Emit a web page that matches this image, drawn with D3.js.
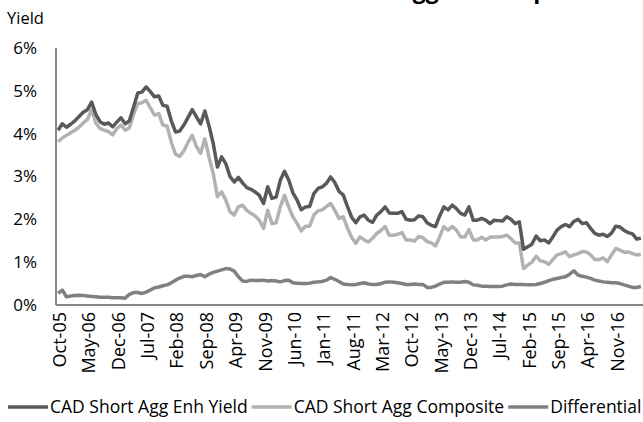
<!DOCTYPE html>
<html>
<head>
<meta charset="utf-8">
<script src="https://cdn.jsdelivr.net/npm/d3@7"></script>
<style>
  html, body { margin: 0; padding: 0; background: #fff; }
  #plot { width: 643px; height: 422px; }
  text { font-family: "Open Sans", "Liberation Sans", sans-serif; fill: #000; }
</style>
</head>
<body>
<div id="plot"></div>
<script>
// Monthly yields, Oct-05 .. May-17 (percent)
const startYear = 2005, startMonth = 9; // October (0-based)
const monthNames = ['Jan', 'Feb', 'Mar', 'Apr', 'May', 'Jun', 'Jul', 'Aug', 'Sep', 'Oct', 'Nov', 'Dec'];

const enhYield = [
  4.08, 4.23, 4.15, 4.22, 4.30, 4.40, 4.50, 4.56, 4.74, 4.45, 4.28, 4.22, 4.25, 4.16, 4.27, 4.37, 4.23, 4.30, 4.62, 4.95,
  4.97, 5.09, 4.98, 4.86, 4.88, 4.66, 4.64, 4.30, 4.04, 4.06, 4.20, 4.38, 4.56, 4.39, 4.23, 4.53, 4.18, 3.77, 3.22, 3.46,
  3.30, 3.00, 2.87, 2.98, 2.85, 2.74, 2.70, 2.64, 2.56, 2.37, 2.76, 2.49, 2.52, 2.91, 3.12, 2.92, 2.62, 2.45, 2.22, 2.29,
  2.30, 2.60, 2.72, 2.76, 2.84, 2.99, 2.86, 2.65, 2.57, 2.30, 2.05, 1.92, 2.06, 2.10, 1.98, 1.93, 2.10, 2.18, 2.29, 2.15,
  2.14, 2.14, 2.18, 2.00, 1.98, 1.99, 2.08, 2.06, 1.92, 1.86, 1.83, 2.08, 2.29, 2.22, 2.33, 2.25, 2.14, 2.10, 2.29, 1.98,
  1.98, 2.02, 1.98, 1.90, 1.98, 1.97, 1.96, 2.06, 2.00, 1.90, 1.94, 1.30, 1.36, 1.42, 1.61, 1.50, 1.52, 1.45, 1.59, 1.75,
  1.83, 1.88, 1.83, 1.95, 2.00, 1.90, 1.92, 1.79, 1.67, 1.63, 1.65, 1.60, 1.68, 1.84, 1.82, 1.74, 1.69, 1.66, 1.54, 1.56
];

const composite = [
  3.81, 3.90, 3.96, 4.02, 4.08, 4.15, 4.25, 4.33, 4.56, 4.25, 4.12, 4.08, 4.05, 3.97, 4.12, 4.20, 4.08, 4.14, 4.45, 4.70,
  4.72, 4.78, 4.60, 4.43, 4.47, 4.20, 4.18, 3.80, 3.52, 3.47, 3.60, 3.80, 3.96, 3.70, 3.54, 3.88, 3.45, 3.07, 2.53, 2.64,
  2.45, 2.18, 2.10, 2.29, 2.33, 2.21, 2.14, 2.08, 1.98, 1.79, 2.21, 1.90, 1.92, 2.29, 2.56, 2.29, 2.06, 1.90, 1.73, 1.84,
  1.84, 2.10, 2.20, 2.22, 2.30, 2.37, 2.21, 2.02, 2.06, 1.80, 1.58, 1.44, 1.59, 1.52, 1.47, 1.56, 1.67, 1.74, 1.83, 1.63,
  1.63, 1.65, 1.69, 1.52, 1.52, 1.49, 1.60, 1.57, 1.48, 1.45, 1.38, 1.59, 1.83, 1.75, 1.83, 1.75, 1.59, 1.59, 1.76, 1.52,
  1.52, 1.58, 1.52, 1.58, 1.59, 1.59, 1.60, 1.63, 1.55, 1.45, 1.45, 0.85, 0.93, 1.00, 1.14, 1.03, 1.01, 0.95, 1.06, 1.17,
  1.20, 1.24, 1.13, 1.17, 1.20, 1.25, 1.24, 1.17, 1.06, 1.06, 1.10, 1.01, 1.17, 1.32, 1.28, 1.23, 1.24, 1.20, 1.17, 1.18
];

const differential = [
  0.27, 0.35, 0.19, 0.21, 0.22, 0.23, 0.22, 0.21, 0.20, 0.19, 0.18, 0.18, 0.18, 0.17, 0.17, 0.17, 0.16, 0.25, 0.29, 0.29,
  0.27, 0.30, 0.35, 0.40, 0.42, 0.45, 0.47, 0.52, 0.58, 0.63, 0.67, 0.67, 0.66, 0.69, 0.71, 0.66, 0.72, 0.76, 0.79, 0.82,
  0.85, 0.84, 0.79, 0.66, 0.56, 0.55, 0.58, 0.57, 0.57, 0.58, 0.56, 0.57, 0.56, 0.54, 0.57, 0.58, 0.52, 0.51, 0.50, 0.50,
  0.51, 0.53, 0.54, 0.55, 0.58, 0.64, 0.60, 0.55, 0.49, 0.48, 0.47, 0.48, 0.50, 0.52, 0.49, 0.48, 0.48, 0.50, 0.53, 0.54,
  0.53, 0.52, 0.50, 0.48, 0.48, 0.49, 0.48, 0.48, 0.41, 0.41, 0.44, 0.49, 0.53, 0.53, 0.54, 0.53, 0.53, 0.55, 0.53, 0.47,
  0.46, 0.44, 0.44, 0.43, 0.43, 0.43, 0.44, 0.47, 0.49, 0.48, 0.48, 0.48, 0.47, 0.47, 0.48, 0.50, 0.53, 0.57, 0.60, 0.62,
  0.64, 0.66, 0.72, 0.80, 0.70, 0.67, 0.65, 0.62, 0.58, 0.56, 0.54, 0.53, 0.52, 0.52, 0.50, 0.47, 0.44, 0.41, 0.41, 0.43
];

const seriesNames = ['CAD Short Agg Enh Yield', 'CAD Short Agg Composite', 'Differential'];
const seriesColors = ['#595959', '#b2b2b2', '#808080'];
const yTicks = [0, 1, 2, 3, 4, 5, 6];
const labelEvery = 7;

const months = enhYield.map((_, i) => {
  const m = startMonth + i;
  const y = startYear + Math.floor(m / 12);
  return `${monthNames[m % 12]}-${String(y % 100).padStart(2, '0')}`;
});

const W = 643, H = 422;
const margin = { top: 48, right: 0, bottom: 117, left: 56 };
const width = W - margin.left - margin.right;
const height = H - margin.top - margin.bottom;

const svg = d3.select('#plot').append('svg').attr('width', W).attr('height', H);

// title, cut off at the top edge of the frame (only descenders show)
svg.append('text').attr('x', 275).attr('y', -2).style('font-size', '23px').style('font-weight', 'bold')
  .text('CAD Short Agg vs. Composite Yield');

const g = svg.append('g').attr('transform', `translate(${margin.left},${margin.top})`);

const x = d3.scaleBand().domain(months).range([0, width]).padding(0);
const y = d3.scaleLinear().domain([0, 6]).range([height, 0]);
const px = (i) => x(months[i]) + x.bandwidth() / 2;

// y axis
g.append('line').attr('x1', 0).attr('x2', 0).attr('y1', 0).attr('y2', height)
  .attr('stroke', '#868686').attr('stroke-width', 2);
g.selectAll('.ytick').data(yTicks).enter().append('text')
  .attr('x', -19).attr('y', (d) => y(d)).attr('dy', '0.35em')
  .attr('text-anchor', 'end').style('font-size', '17px')
  .text((d) => d + '%');
svg.append('text').attr('x', 7).attr('y', 24).style('font-size', '16.5px').text('Yield');

// x axis
g.append('line').attr('x1', 0).attr('x2', width).attr('y1', height).attr('y2', height)
  .attr('stroke', '#868686').attr('stroke-width', 2);
const labelIdx = d3.range(0, months.length, labelEvery);
g.selectAll('.xtick').data(labelIdx).enter().append('text')
  .attr('transform', (i) => `translate(${px(i) + 8},${height + 7}) rotate(-90)`)
  .attr('text-anchor', 'end').style('font-size', '18px')
  .text((i) => months[i]);

// lines
const allSeries = [enhYield, composite, differential];
const line = d3.line().x((d, i) => px(i)).y((d) => y(d));
const drawOrder = [1, 0, 2];
drawOrder.forEach((k) => {
  g.append('path').datum(allSeries[k]).attr('d', line)
    .attr('fill', 'none').attr('stroke', seriesColors[k]).attr('stroke-width', 3.5)
    .attr('stroke-linejoin', 'round');
});

// legend
const legendY = 407;
let lx = 8;
seriesNames.forEach((name, k) => {
  svg.append('line').attr('x1', lx).attr('x2', lx + 40).attr('y1', legendY).attr('y2', legendY)
    .attr('stroke', seriesColors[k]).attr('stroke-width', 3.5);
  const t = svg.append('text').attr('x', lx + 42).attr('y', legendY).attr('dy', '0.35em')
    .style('font-size', '17.5px').text(name);
  lx += 42 + t.node().getComputedTextLength() + 4;
});
</script>
</body>
</html>
